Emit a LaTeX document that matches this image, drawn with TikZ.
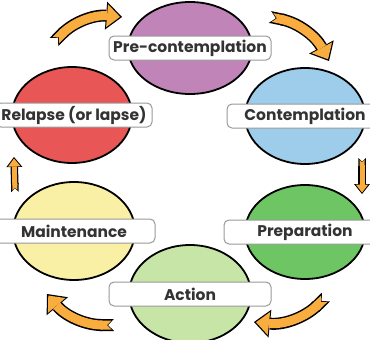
\documentclass[tikz,border=0pt]{standalone}
\usepackage{fontspec}
\setmainfont{Poppins}
\usetikzlibrary{shapes.geometric,arrows.meta}
\definecolor{prepurple}{RGB}{193,132,184}
\definecolor{relred}{RGB}{232,86,86}
\definecolor{conblue}{RGB}{158,205,235}
\definecolor{maiyellow}{RGB}{249,240,165}
\definecolor{prepgreen}{RGB}{109,197,99}
\definecolor{actgreen}{RGB}{198,229,166}
\definecolor{arroworange}{RGB}{249,173,63}
\begin{document}
\begin{tikzpicture}[x=1pt,y=-1pt,
  stage/.style={ellipse, draw=black, line width=1.8pt, inner sep=0pt},
  tag/.style={draw=black!40, fill=white, rounded corners=5pt, line width=1pt,
    minimum width=162pt, minimum height=24pt, inner sep=2pt,
    font=\fontsize{15.5}{15.5}\selectfont\bfseries, text=black!80},
  bigback/.style={line width=12pt, black,
    {Triangle Cap[reversed]}-{Triangle[length=16pt,width=28pt,line width=0pt]}},
  bigfront/.style={line width=9pt, arroworange, shorten >=2pt, shorten <=2.5pt,
    {Triangle Cap[reversed]}-{Triangle[length=13pt,width=23pt,line width=0pt]}},
  smallback/.style={line width=7.5pt, black,
    {Triangle Cap[reversed]}-{Triangle[length=10pt,width=16pt,line width=0pt]}},
  smallfront/.style={line width=5pt, arroworange, shorten >=1.5pt, shorten <=1.8pt,
    {Triangle Cap[reversed]}-{Triangle[length=8pt,width=12.5pt,line width=0pt]}}]
\clip (0,0) rectangle (370,340);

% stages of change
\node[stage, fill=prepurple, minimum width=124pt, minimum height=92pt] (pre) at (190,48) {};
\node[stage, fill=relred, minimum width=120pt, minimum height=96pt] (rel) at (72,115) {};
\node[stage, fill=conblue, minimum width=120pt, minimum height=96pt] (con) at (305,116) {};
\node[stage, fill=maiyellow, minimum width=122pt, minimum height=98pt] (mai) at (74,231) {};
\node[stage, fill=prepgreen, minimum width=120pt, minimum height=94pt] (prep) at (305,232) {};
\node[stage, fill=actgreen, minimum width=122pt, minimum height=98pt] (act) at (190,294) {};

% labels
\node[tag] (pretag) at (pre) {Pre-contemplation};
\node[tag, minimum width=156pt] (reltag) at (74,115) {Relapse (or lapse)};
\node[tag, minimum width=156pt] (contag) at (con) {Contemplation};
\node[tag] (maitag) at (mai) {Maintenance};
\node[tag] (preptag) at (prep) {Preparation};
\node[tag] (acttag) at (act) {Action};

% arrow ends
\coordinate (a1) at (54,42);   \coordinate (b1) at (122,17);
\coordinate (a2) at (270,17);  \coordinate (b2) at (329,61);
\coordinate (a3) at (362,158); \coordinate (b3) at (362,194);
\coordinate (a4) at (326,297); \coordinate (b4) at (254,322);
\coordinate (a5) at (114,325); \coordinate (b5) at (47,294);
\coordinate (a6) at (15,192);  \coordinate (b6) at (14,157);

% cycle arrows
\draw[bigback] (a1) to[bend left=25] (b1);
\draw[bigfront] (a1) to[bend left=25] (b1);
\draw[bigback] (a2) to[bend left=25] (b2);
\draw[bigfront] (a2) to[bend left=25] (b2);
\draw[smallback] (a3) -- (b3);
\draw[smallfront] (a3) -- (b3);
\draw[bigback] (a4) to[bend left=25] (b4);
\draw[bigfront] (a4) to[bend left=25] (b4);
\draw[bigback] (a5) to[bend left=25] (b5);
\draw[bigfront] (a5) to[bend left=25] (b5);
\draw[smallback] (a6) -- (b6);
\draw[smallfront] (a6) -- (b6);
\end{tikzpicture}
\end{document}
